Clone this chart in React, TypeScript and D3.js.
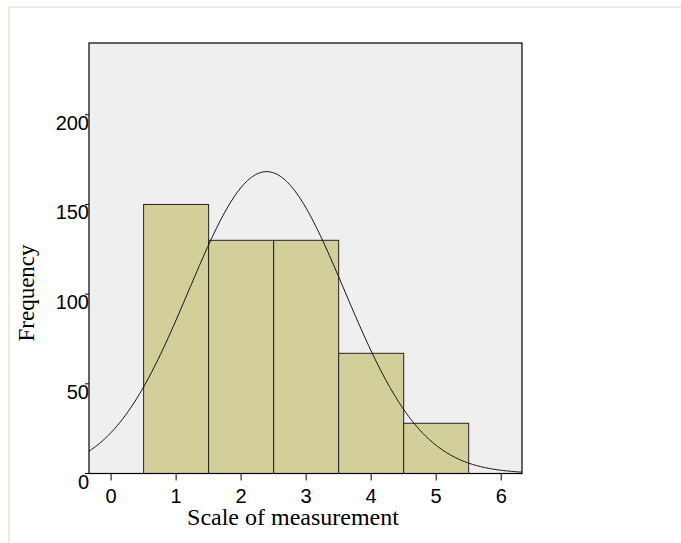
import React, { useEffect, useRef } from "react";
import * as d3 from "d3";

// bins of the histogram (centre value) and their counts
const binCentres = [1, 2, 3, 4, 5];
const counts = [150, 130, 130, 67, 28];
const xTicks = [0, 1, 2, 3, 4, 5, 6];
const yTicks = [0, 50, 100, 150, 200];

const App = () => {
  const ref = useRef<SVGSVGElement | null>(null);
  const width = 681;
  const height = 543;
  const plot = { left: 89, right: 522, top: 43, bottom: 473.5 };

  useEffect(() => {
    const svg = d3.select(ref.current);
    svg.selectAll("*").remove();

    const x = d3.scaleLinear().domain([-0.34, 6.32]).range([plot.left, plot.right]);
    const y = d3.scaleLinear().domain([0, 240]).range([plot.bottom, plot.top]);

    // outer frame lines
    svg.append("rect").attr("x", 8).attr("y", 6).attr("width", width - 8).attr("height", 2).attr("fill", "#ebeadf");
    svg.append("rect").attr("x", 8).attr("y", 6).attr("width", 2).attr("height", height - 6).attr("fill", "#ebeadf");

    // plot background
    svg
      .append("rect")
      .attr("x", plot.left)
      .attr("y", plot.top)
      .attr("width", plot.right - plot.left)
      .attr("height", plot.bottom - plot.top)
      .attr("fill", "#efefef");

    svg
      .append("clipPath")
      .attr("id", "plotClip")
      .append("rect")
      .attr("x", plot.left)
      .attr("y", plot.top)
      .attr("width", plot.right - plot.left)
      .attr("height", plot.bottom - plot.top);

    // bars
    svg
      .append("g")
      .selectAll("rect")
      .data(binCentres)
      .join("rect")
      .attr("x", (d) => x(d - 0.5))
      .attr("y", (d, i) => y(counts[i]))
      .attr("width", (d) => x(d + 0.5) - x(d - 0.5))
      .attr("height", (d, i) => y(0) - y(counts[i]))
      .attr("fill", "#d3cf9a")
      .attr("stroke", "#222")
      .attr("stroke-width", 1);

    // normal curve from the histogram's mean and sd
    const n = d3.sum(counts);
    const mean = d3.sum(binCentres, (d, i) => d * counts[i]) / n;
    const variance = d3.sum(binCentres, (d, i) => counts[i] * (d - mean) ** 2) / (n - 1);
    const sd = Math.sqrt(variance);
    const pdf = (v: number) => (n / (sd * Math.sqrt(2 * Math.PI))) * Math.exp(-0.5 * ((v - mean) / sd) ** 2);
    const pts = d3.range(-0.34, 6.33, 0.02);
    svg
      .append("path")
      .datum(pts)
      .attr("clip-path", "url(#plotClip)")
      .attr("fill", "none")
      .attr("stroke", "#111")
      .attr("stroke-width", 1)
      .attr(
        "d",
        d3
          .line<number>()
          .x((d) => x(d))
          .y((d) => y(pdf(d)))
          .curve(d3.curveMonotoneX)
      );

    // plot frame
    svg
      .append("rect")
      .attr("x", plot.left)
      .attr("y", plot.top)
      .attr("width", plot.right - plot.left)
      .attr("height", plot.bottom - plot.top)
      .attr("fill", "none")
      .attr("stroke", "#000")
      .attr("stroke-width", 1.2);

    // x axis ticks
    const xg = svg.append("g");
    xg.selectAll("line")
      .data(xTicks)
      .join("line")
      .attr("x1", (d) => x(d))
      .attr("x2", (d) => x(d))
      .attr("y1", plot.bottom)
      .attr("y2", plot.bottom + 7)
      .attr("stroke", "#000");
    xg.selectAll("text")
      .data(xTicks)
      .join("text")
      .attr("x", (d) => x(d))
      .attr("y", plot.bottom + 29.5)
      .attr("text-anchor", "middle")
      .attr("font-family", "Liberation Sans, Arial, sans-serif")
      .attr("font-size", 20)
      .text((d) => d);

    // y axis ticks
    const yg = svg.append("g");
    yg.selectAll("line")
      .data(yTicks)
      .join("line")
      .attr("x1", plot.left - 4)
      .attr("x2", plot.left)
      .attr("y1", (d) => y(d))
      .attr("y2", (d) => y(d))
      .attr("stroke", "#000");
    yg.selectAll("text")
      .data(yTicks)
      .join("text")
      .attr("x", plot.left)
      .attr("y", (d) => y(d) + 15)
      .attr("text-anchor", "end")
      .attr("font-family", "Liberation Sans, Arial, sans-serif")
      .attr("font-size", 20)
      .text((d) => d);

    // titles
    svg
      .append("text")
      .attr("x", 293)
      .attr("y", 524.5)
      .attr("text-anchor", "middle")
      .attr("font-family", "Liberation Serif, Times New Roman, serif")
      .attr("font-size", 24)
      .text("Scale of measurement");

    svg
      .append("text")
      .attr("transform", "translate(34,293) rotate(-90)")
      .attr("text-anchor", "middle")
      .attr("font-family", "Liberation Serif, Times New Roman, serif")
      .attr("font-size", 23)
      .text("Frequency");
  }, []);

  return (
    <div style={{ position: "absolute", left: 0, top: 0 }}>
      <svg ref={ref} width={width} height={height} style={{ display: "block", background: "#fff" }} />
    </div>
  );
};

export default App;
